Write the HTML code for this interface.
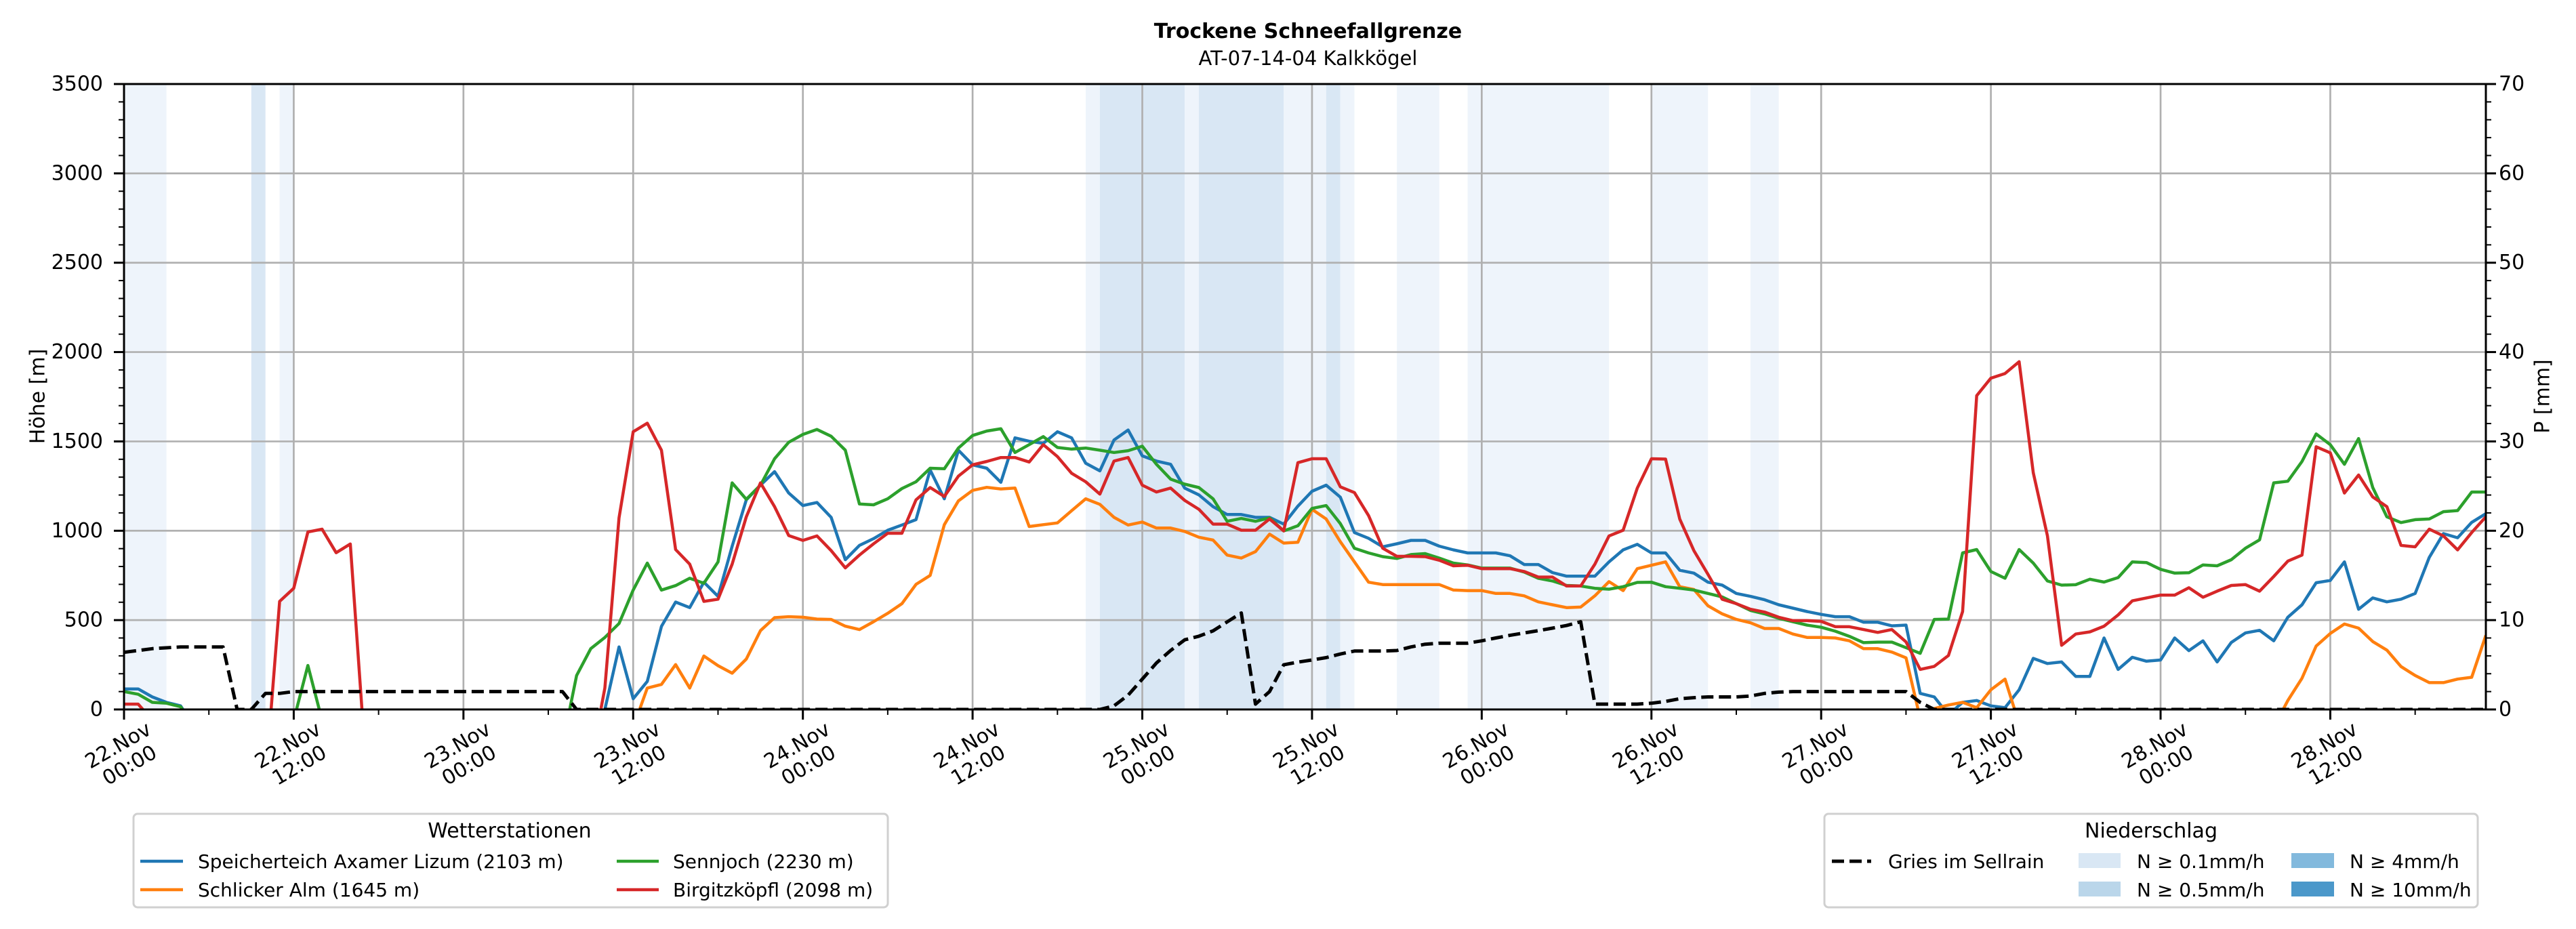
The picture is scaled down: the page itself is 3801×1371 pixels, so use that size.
<!DOCTYPE html>
<html><head><meta charset="utf-8"><title>Trockene Schneefallgrenze</title>
<style>
html,body{margin:0;padding:0;background:#fff;}
svg{display:block;font-family:"DejaVu Sans","Liberation Sans",sans-serif;}
</style></head>
<body>
<svg id="chart" width="3801" height="1371" viewBox="0 0 3801 1371" xmlns="http://www.w3.org/2000/svg">
<defs><clipPath id="plotclip"><rect x="183" y="124" width="3485" height="923"/></clipPath></defs>
<text x="1930" y="56" text-anchor="middle" font-size="30" font-weight="bold">Trockene Schneefallgrenze</text>
<text x="1930" y="96" text-anchor="middle" font-size="29">AT-07-14-04 Kalkkögel</text>
<g id="bands" clip-path="url(#plotclip)"></g>
<g id="grid"></g>
<g id="series" clip-path="url(#plotclip)"></g>
<g id="axes"></g>
<text transform="translate(56,585) rotate(-90)" text-anchor="middle" dominant-baseline="central" font-size="30">Höhe [m]</text>
<text transform="translate(3752,585) rotate(-90)" text-anchor="middle" dominant-baseline="central" font-size="30">P [mm]</text>

<g>
<rect x="197" y="1201" width="1113" height="138" rx="6" fill="#fff" stroke="#d0d0d0" stroke-width="3"/>
<text x="752" y="1236" text-anchor="middle" font-size="30">Wetterstationen</text>
<g><line x1="207" y1="1271" x2="270" y2="1271" stroke="#1f77b4" stroke-width="4.5"/><text x="292" y="1281" font-size="28">Speicherteich Axamer Lizum (2103 m)</text></g>
<g><line x1="207" y1="1313" x2="270" y2="1313" stroke="#ff7f0e" stroke-width="4.5"/><text x="292" y="1323" font-size="28">Schlicker Alm (1645 m)</text></g>
<g><line x1="910" y1="1271" x2="972" y2="1271" stroke="#2ca02c" stroke-width="4.5"/><text x="993" y="1281" font-size="28">Sennjoch (2230 m)</text></g>
<g><line x1="910" y1="1313" x2="972" y2="1313" stroke="#d62728" stroke-width="4.5"/><text x="993" y="1323" font-size="28">Birgitzköpfl (2098 m)</text></g>
</g>

<g>
<rect x="2692" y="1201" width="964" height="138" rx="6" fill="#fff" stroke="#d0d0d0" stroke-width="3"/>
<text x="3174" y="1236" text-anchor="middle" font-size="30">Niederschlag</text>
<g><line x1="2703" y1="1271" x2="2761" y2="1271" stroke="#000" stroke-width="5" stroke-dasharray="18,8"/><text x="2786" y="1281" font-size="28">Gries im Sellrain</text></g>
<g><rect x="3067" y="1259" width="62" height="22" fill="#d9e7f4"/><text x="3153" y="1281" font-size="28">N ≥ 0.1mm/h</text></g>
<g><rect x="3067" y="1301" width="62" height="22" fill="#bad6ea"/><text x="3153" y="1323" font-size="28">N ≥ 0.5mm/h</text></g>
<g><rect x="3381" y="1259" width="63" height="22" fill="#82b9dd"/><text x="3467" y="1281" font-size="28">N ≥ 4mm/h</text></g>
<g><rect x="3381" y="1301" width="63" height="22" fill="#4b98ca"/><text x="3467" y="1323" font-size="28">N ≥ 10mm/h</text></g>
</g>
</svg>
<script>
const blue = [115,115,70,40,20,-100,-100,-100,-100,-100,-100,-100,
-100,-100,-100,-100,-100,-100,-100,-100,-100,-100,-100,-100,
-100,-100,-100,-100,-100,-100,-100,-100,-100,-200,0,350,
60,157,465,601,570,712,633,913,1173,1255,1331,1211,
1141,1158,1075,838,918,956,1003,1032,1062,1340,1179,1451,
1369,1350,1271,1520,1501,1489,1554,1520,1378,1335,1508,1564,
1419,1390,1372,1239,1201,1135,1091,1091,1075,1075,1037,1138,
1221,1255,1188,990,958,910,927,946,946,914,893,876,
876,876,860,811,811,766,746,746,746,826,893,924,
876,876,779,763,712,696,649,633,614,586,567,548,
532,519,519,488,488,468,472,90,70,-30,40,50,
20,10,110,286,257,266,185,185,400,224,292,270,
277,400,329,384,266,375,428,443,384,516,586,709,
722,826,561,624,602,617,649,851,984,961,1047,1096];
const orange = [-100,-100,-100,-100,-100,-100,-100,-100,-100,-100,-100,-100,
-100,-100,-100,-100,-100,-100,-100,-100,-100,-100,-100,-100,
-100,-100,-100,-100,-100,-100,-100,-100,-100,-100,-100,-100,
-100,120,140,251,120,299,245,203,282,441,514,519,
516,506,504,466,447,491,538,592,700,750,1034,1167,
1226,1243,1234,1239,1024,1034,1044,1112,1179,1148,1075,1032,
1049,1015,1015,996,964,948,864,847,883,981,931,936,
1120,1066,939,826,712,699,699,699,699,699,668,665,
665,649,649,636,602,586,570,573,636,715,665,788,
807,826,687,671,580,535,504,485,453,453,422,403,
403,400,384,340,340,321,289,-50,5,25,40,10,
110,170,-80,-100,-100,-100,-100,-100,-100,-100,-100,-100,
-100,-100,-100,-100,-100,-100,-100,-100,-100,50,175,355,
425,478,455,380,332,240,190,150,150,170,180,415];
const green = [100,85,40,35,15,-100,-100,-100,-100,-100,-100,-100,
-60,246,-60,-100,-100,-100,-100,-100,-100,-100,-100,-100,
-100,-100,-100,-100,-100,-100,-100,-200,190,340,403,481,
668,819,668,693,734,706,826,1268,1176,1255,1403,1495,
1539,1567,1529,1451,1150,1145,1179,1236,1274,1350,1347,1463,
1533,1558,1571,1438,1482,1527,1466,1457,1463,1451,1438,1448,
1473,1372,1289,1261,1242,1179,1053,1069,1053,1072,999,1028,
1125,1141,1040,902,876,855,845,867,872,847,819,809,
791,791,791,769,734,719,694,691,678,673,687,711,
712,687,678,668,649,630,592,554,535,510,491,472,
460,438,409,374,377,377,346,314,504,506,876,895,
772,734,895,819,719,696,698,729,713,738,826,822,
784,763,765,809,804,838,902,949,1268,1277,1388,1542,
1482,1372,1516,1242,1078,1046,1062,1066,1107,1113,1217,1217];
const red = [30,30,-60,-100,-100,-100,-100,-100,-100,-100,-400,605,
678,993,1009,877,926,-200,-100,-100,-100,-100,-100,-100,
-100,-100,-100,-100,-100,-100,-100,-100,-100,-300,120,1072,
1554,1602,1451,895,813,605,617,813,1078,1268,1135,973,
946,971,889,792,864,927,986,986,1173,1242,1192,1306,
1369,1388,1410,1410,1385,1482,1415,1322,1274,1205,1390,1410,
1255,1217,1239,1170,1120,1037,1037,1003,1003,1066,999,1381,
1403,1403,1246,1214,1085,902,857,857,855,835,804,807,
788,788,788,772,741,741,691,691,813,971,1003,1239,
1403,1401,1066,889,756,617,592,561,545,516,497,497,
493,463,463,447,431,447,378,224,241,302,548,1756,
1854,1880,1946,1324,971,359,422,434,466,529,608,624,
640,640,681,628,662,694,699,662,744,830,864,1470,
1436,1211,1312,1189,1135,918,910,1009,971,893,990,1078];
const gries = [320,330,340,345,350,350,350,350,0,0,90,90,
100,100,100,100,100,100,100,100,100,100,100,100,
100,100,100,100,100,100,100,100,0,0,0,0,
0,0,0,0,0,0,0,0,0,0,0,0,
0,0,0,0,0,0,0,0,0,0,0,0,
0,0,0,0,0,0,0,0,0,0,20,80,
170,260,330,390,410,440,490,540,30,100,250,265,
277,290,310,327,327,327,330,350,365,371,371,371,
384,400,415,428,441,455,470,491,30,30,30,30,
35,45,60,66,70,70,70,75,90,97,100,100,
100,100,100,100,100,100,100,40,0,0,0,0,
0,0,0,0,0,0,0,0,0,0,0,0,
0,0,0,0,0,0,0,0,0,0,0,0,
0,0,0,0,0,0,0,0,0,0,0,0];
const bandStart = [0,9,11,68,69,75,76,82,85,86,90,95,108,115];
const bandEnd   = [3,10,12,69,75,76,82,85,86,87,93,105,112,117];
const bandLevel = [1,2,1,1,2,1,2,1,2,1,1,1,1,1];
const xTickLabels = ["22.Nov|00:00","22.Nov|12:00","23.Nov|00:00","23.Nov|12:00","24.Nov|00:00","24.Nov|12:00","25.Nov|00:00","25.Nov|12:00","26.Nov|00:00","26.Nov|12:00","27.Nov|00:00","27.Nov|12:00","28.Nov|00:00","28.Nov|12:00"];
const yTicks = [0,500,1000,1500,2000,2500,3000,3500];
const y2Ticks = [0,10,20,30,40,50,60,70];

const NS="http://www.w3.org/2000/svg";
const X0=183,X1=3668,Y0=1047,Y1=124,HMAX=167,VMAX=3500,PMAX=70;
function xs(h){return X0+(X1-X0)*h/HMAX;}
function ys(v){return Y0-(Y0-Y1)*v/VMAX;}
function ys2(p){return Y0-(Y0-Y1)*p/PMAX;}
function mk(tag,attrs,parent){const e=document.createElementNS(NS,tag);for(const k in attrs)e.setAttribute(k,attrs[k]);parent.appendChild(e);return e;}
const gB=document.getElementById('bands'),gG=document.getElementById('grid'),gS=document.getElementById('series'),gA=document.getElementById('axes');
const bandColors={1:'#eef4fb',2:'#d9e7f4'};
for(let i=0;i<bandStart.length;i++){
  const r=mk('rect',{x:xs(bandStart[i]),y:Y1,width:xs(bandEnd[i])-xs(bandStart[i]),height:Y0-Y1,fill:bandColors[bandLevel[i]]},gB);
  
  
}
for(let i=0;i<xTickLabels.length;i++){
  const x=xs(i*12);
  const l=mk('line',{x1:x,y1:Y1,x2:x,y2:Y0,stroke:'#b0b0b0','stroke-width':2.7},gG);
  
  
}
yTicks.forEach(v=>{
  const l=mk('line',{x1:X0,y1:ys(v),x2:X1,y2:ys(v),stroke:'#b0b0b0','stroke-width':2.7},gG);
  
  
});
function path(arr,color,extra){
  let d='';arr.forEach((v,h)=>{d+=(h?'L':'M')+xs(h).toFixed(1)+','+ys(v).toFixed(1);});
  const p=mk('path',Object.assign({d:d,fill:'none',stroke:color,'stroke-width':4.5,'stroke-linejoin':'round'},extra||{}),gS);
  return p;
}
let p;
p=path(blue,'#1f77b4');


p=path(orange,'#ff7f0e');


p=path(green,'#2ca02c');


p=path(red,'#d62728');


p=path(gries,'#000',{'stroke-width':5,'stroke-dasharray':'18,8'});


const fr=mk('rect',{x:X0,y:Y1,width:X1-X0,height:Y0-Y1,fill:'none',stroke:'#000','stroke-width':3},gA);


for(let v=0;v<=VMAX;v+=100){
  const major=v%500===0;
  mk('line',{x1:X0,y1:ys(v),x2:X0-(major?15:8),y2:ys(v),stroke:'#000','stroke-width':major?3:2},gA);
}
yTicks.forEach(v=>{
  const t=mk('text',{x:152,y:ys(v),'text-anchor':'end','dominant-baseline':'central','font-size':30},gA);
  t.textContent=v;
  
  
});
for(let pm=0;pm<=PMAX;pm+=2){
  const major=pm%10===0;
  mk('line',{x1:X1,y1:ys2(pm),x2:X1+(major?15:8),y2:ys2(pm),stroke:'#000','stroke-width':major?3:2},gA);
}
y2Ticks.forEach(pm=>{
  const t=mk('text',{x:3687,y:ys2(pm),'text-anchor':'start','dominant-baseline':'central','font-size':30},gA);
  t.textContent=pm;
  
  
});
for(let h=0;h<=HMAX;h+=6){
  const major=h%12===0;
  mk('line',{x1:xs(h),y1:Y0,x2:xs(h),y2:Y0+(major?15:8),stroke:'#000','stroke-width':major?3:2},gA);
}
xTickLabels.forEach((lab,i)=>{
  const parts=lab.split('|');
  const g=mk('g',{transform:'translate('+xs(i*12).toFixed(1)+',1115) rotate(-30)'},gA);
  
  
  const t1=mk('text',{x:0,y:-17,'text-anchor':'middle','dominant-baseline':'central','font-size':30},g);t1.textContent=parts[0];
  const t2=mk('text',{x:0,y:17,'text-anchor':'middle','dominant-baseline':'central','font-size':30},g);t2.textContent=parts[1];
});
</script>
</body></html>
